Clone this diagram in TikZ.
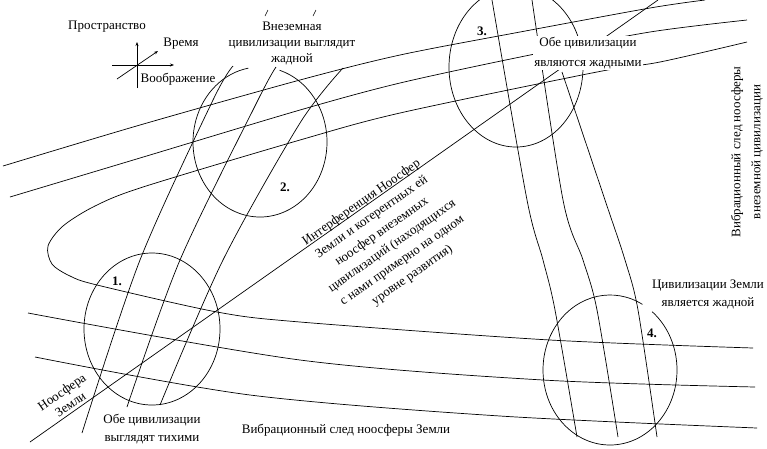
\documentclass[tikz,border=0pt]{standalone}
\usepackage{fontspec}
\setmainfont{Liberation Serif}
\usetikzlibrary{arrows.meta}
\begin{document}
\begin{tikzpicture}[x=1pt,y=-1pt,
  ln/.style={line width=0.7pt, black},
  ax/.style={line width=0.7pt, -{Stealth[length=4pt,width=3pt]}},
  lbl/.style={font=\fontsize{13}{16}\selectfont, inner sep=1pt},
  num/.style={font=\fontsize{13}{15}\selectfont\bfseries, inner sep=1pt}]
\useasboundingbox (0,0) rectangle (767,448);
% axes icon
\coordinate (o1) at (137,88); \coordinate (o2) at (137,42);
\coordinate (h1) at (112,65); \coordinate (h2) at (174,65);
\coordinate (d1) at (117,79); \coordinate (d2) at (158,51);
\draw[ax] (o1) -- (o2);
\draw[ax] (h1) -- (h2);
\draw[ax] (d1) -- (d2);
% upper band (alien noosphere trace)
\draw[ln] plot[smooth] coordinates {(3,166) (140,125) (300,80) (400,55) (520,32) (650,8) (705,0)};
\draw[ln] plot[smooth] coordinates {(10,197) (140,158) (300,110) (400,83) (530,55) (650,32) (747,20)};
% loop line continuing into lower band
\draw[ln] plot[smooth] coordinates {(747,42) (660,62) (597,72) (400,113) (300,140) (143,187) (95,206) (63,226) (48,246) (52,264) (70,276) (97,285) (217,312) (300,322) (550,340) (753,348)};
% lower band (Earth noosphere trace)
\draw[ln] plot[smooth] coordinates {(28,313) (300,360) (543,380) (755,387)};
\draw[ln] plot[smooth] coordinates {(35,357) (250,395) (500,416) (757,428)};
% left band (circle 1 to circle 2)
\draw[ln] plot[smooth] coordinates {(82,433) (140,260) (213,100) (233,66)};
\draw[ln] plot[smooth] coordinates {(127,407) (180,260) (258,100) (276,67)};
\draw[ln] plot[smooth] coordinates {(160,405) (223,260) (300,123) (343,68)};
% right band (circle 3 to circle 4)
\draw[ln] plot[smooth] coordinates {(492,0) (527,200) (543,260) (555,310) (577,437)};
\draw[ln] plot[smooth] coordinates {(532,0) (563,200) (583,260) (597,310) (618,437)};
\draw[ln] plot[smooth] coordinates {(562,72) (605,200) (625,260) (638,310) (657,437)};
% Earth noosphere line
\coordinate (n1) at (30,442); \coordinate (n2) at (658,0);
\draw[ln] (n1) -- (n2);
% circles
\draw[ln] (152,329) ellipse [x radius=68, y radius=76];
\draw[ln] ([shift={(287:67 and 75)}]260,142) arc[start angle=287, end angle=620, x radius=67, y radius=75];
\draw[ln] (516,67) ellipse [x radius=67, y radius=80];
\draw[ln] ([shift={(309:67 and 75)}]610,370) arc[start angle=309, end angle=659, x radius=67, y radius=75];
% small ticks
\draw[line width=0.5pt] (265,16) -- (268,10);
\draw[line width=0.5pt] (313,16) -- (316,10);
% labels
\node[lbl] (prostr) at (107,27) {Пространство};
\node[lbl] (vremya) at (181,44) {Время};
\node[lbl] (voobr) at (178,79) {Воображение};
\node[lbl, align=center] (vnez) at (292,43) {Внеземная\\цивилизации выглядит\\жадной};
\node[num] (n3) at (482,31) {3.};
\node[num] (n2l) at (285,187) {2.};
\node[num] (n1l) at (117,281) {1.};
\node[num] (n4) at (652,333) {4.};
\node[lbl, align=center, fill=white, font=\fontsize{13}{20}\selectfont] (obe3) at (588,53) {Обе цивилизации\\являются жадными};
\node[lbl, align=center, font=\fontsize{13}{18}\selectfont] (zem4) at (708,294) {Цивилизации Земли\\является жадной};
\node[lbl, align=center, rotate=90, font=\fontsize{13}{20}\selectfont] (vibr2) at (747,152) {Вибрационный след ноосферы\\внеземной цивилизации};
\node[lbl, align=center, rotate=35, font=\fontsize{13}{17.7}\selectfont] (interf) at (387,239) {Интерференция Ноосфер\\Земли и когерентных ей\\ноосфер внеземных\\цивилизаций (находящихся\\с нами примерно на одном\\уровне развития)};
\node[lbl, align=center, rotate=35, font=\fontsize{13}{15}\selectfont] (noo) at (66,398) {Ноосфера\\Земли};
\node[lbl, align=center, font=\fontsize{13}{18}\selectfont] (obe1) at (152,429) {Обе цивилизации\\выглядят тихими};
\node[lbl] (vibr1) at (346,430) {Вибрационный след ноосферы Земли};
\end{tikzpicture}
\end{document}
